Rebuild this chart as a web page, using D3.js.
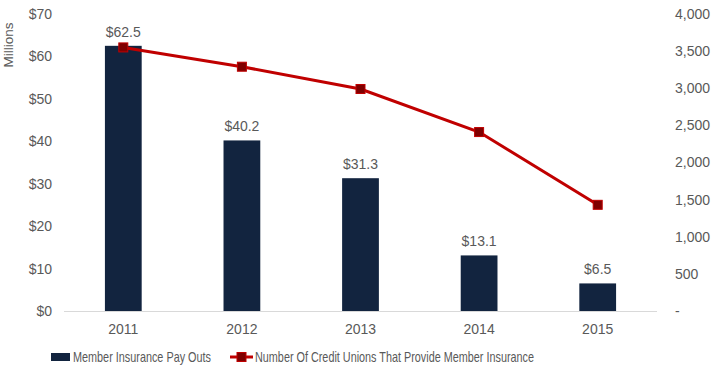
<!DOCTYPE html>
<html><head><meta charset="utf-8">
<script src="https://cdn.jsdelivr.net/npm/d3@7"></script>
<style>body{margin:0;background:#fff}svg{display:block}</style>
</head><body>
<svg id="c" width="716" height="368"></svg>
<script>
const years = ["2011","2012","2013","2014","2015"];
const payouts = [62.5, 40.2, 31.3, 13.1, 6.5];
const creditUnions = [3550, 3290, 2990, 2410, 1430];
const leftTicks = [0,10,20,30,40,50,60,70];
const rightTicks = [0,500,1000,1500,2000,2500,3000,3500,4000];
const legendLabels = ["Member Insurance Pay Outs","Number Of Credit Unions That Provide Member Insurance"];

const svg = d3.select("#c");
const m = {l:64, r:657, t:14, b:311};
const font = "'Liberation Sans', Arial, sans-serif";
const grey = "#595959";
const x = d3.scaleBand().domain(years).range([m.l, m.r]).paddingInner(0.69).paddingOuter(0.345);
const yL = d3.scaleLinear().domain([0,70]).range([m.b, m.t]);
const yR = d3.scaleLinear().domain([0,4000]).range([m.b, m.t]);

// bars
svg.selectAll("rect.bar").data(payouts).join("rect").attr("class","bar")
  .attr("x",(d,i)=>x(years[i])).attr("width",x.bandwidth())
  .attr("y",d=>yL(d)).attr("height",d=>m.b-yL(d)).attr("fill","#12243F");

// bar labels
svg.selectAll("text.bl").data(payouts).join("text").attr("class","bl")
  .attr("x",(d,i)=>x(years[i])+x.bandwidth()/2).attr("y",d=>yL(d)-9)
  .attr("text-anchor","middle").attr("font-family",font).attr("font-size",14).attr("fill",grey)
  .text(d=>"$"+d.toFixed(1));

// x axis line
svg.append("line").attr("x1",m.l).attr("x2",m.r).attr("y1",m.b+0.5).attr("y2",m.b+0.5)
  .attr("stroke","#D9D9D9").attr("stroke-width",1);

// left axis
const la = svg.append("g").attr("transform",`translate(${m.l-9},0)`)
  .call(d3.axisLeft(yL).tickValues(leftTicks).tickSize(0).tickFormat(d=>"$"+d));
la.select(".domain").remove();
la.selectAll("text").attr("font-family",font).attr("font-size",14).attr("fill",grey);

// right axis
const ra = svg.append("g").attr("transform",`translate(${m.r+15},0)`)
  .call(d3.axisRight(yR).tickValues(rightTicks).tickSize(0).tickFormat(d=>d===0?"-":d3.format(",")(d)));
ra.select(".domain").remove();
ra.selectAll("text").attr("font-family",font).attr("font-size",14).attr("fill",grey);

// x axis labels
const xa = svg.append("g").attr("transform",`translate(0,${m.b+10})`)
  .call(d3.axisBottom(x).tickSize(0));
xa.select(".domain").remove();
xa.selectAll("text").attr("font-family",font).attr("font-size",14).attr("fill",grey);

// Millions label
svg.append("text").attr("transform","translate(13,45) rotate(-90)").attr("text-anchor","middle")
  .attr("font-family",font).attr("font-size",13.5).attr("fill",grey).text("Millions");

// line
const line = d3.line().x((d,i)=>x(years[i])+x.bandwidth()/2).y(d=>yR(d));
svg.append("path").datum(creditUnions).attr("d",line).attr("fill","none")
  .attr("stroke","#C00000").attr("stroke-width",3);
svg.selectAll("rect.mk").data(creditUnions).join("rect").attr("class","mk")
  .attr("x",(d,i)=>x(years[i])+x.bandwidth()/2-4.5).attr("y",d=>yR(d)-4.5)
  .attr("width",9).attr("height",9).attr("fill","#7F0000").attr("stroke","#C00000").attr("stroke-width",1);

// legend
const ly = 357;
svg.append("rect").attr("x",51).attr("y",ly-4).attr("width",19).attr("height",8).attr("fill","#12243F");
svg.append("text").attr("x",73).attr("y",ly).attr("dy","0.36em").attr("font-family",font).attr("font-size",15)
  .attr("textLength",138).attr("lengthAdjust","spacingAndGlyphs")
  .attr("fill",grey).text(legendLabels[0]);
svg.append("line").attr("x1",230).attr("x2",253).attr("y1",ly).attr("y2",ly).attr("stroke","#C00000").attr("stroke-width",3);
svg.append("rect").attr("x",237).attr("y",ly-4.5).attr("width",9).attr("height",9).attr("fill","#7F0000").attr("stroke","#C00000");
svg.append("text").attr("x",255).attr("y",ly).attr("dy","0.36em").attr("font-family",font).attr("font-size",15)
  .attr("textLength",279).attr("lengthAdjust","spacingAndGlyphs")
  .attr("fill",grey).text(legendLabels[1]);
</script>
</body></html>
